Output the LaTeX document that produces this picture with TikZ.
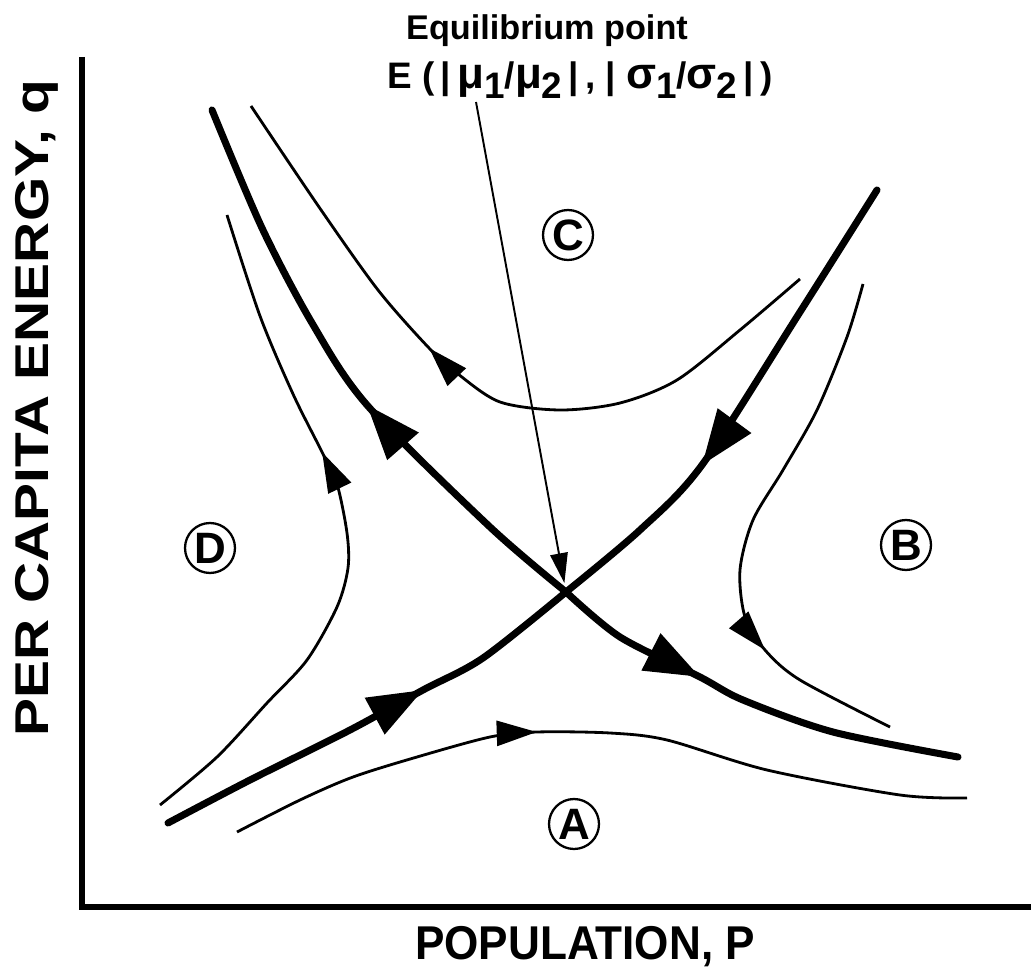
\documentclass[tikz,border=0pt]{standalone}
\usepackage{fontspec}
\setmainfont{Liberation Sans}
\usetikzlibrary{arrows.meta,decorations.markings}
\newcommand{\lowr}[1]{\raisebox{-0.5ex}{#1}}
\newcommand{\gk}[1]{{\fontsize{25}{25}\selectfont #1}}

\begin{document}
\begin{tikzpicture}[
  x=0.02cm, y=-0.02cm,
  axis/.style={line width=3.4pt},
  sep/.style={line width=4pt, line cap=round},
  orbit/.style={line width=1.6pt},
  bigtip/.tip={Triangle[length=1.1cm, width=0.8cm]},
  smalltip/.tip={Triangle[length=0.8cm, width=0.5cm]},
  bigarrow/.style={postaction=decorate,
    decoration={markings, mark=at position #1 with {\arrow{bigtip}}}},
  smallarrow/.style={postaction=decorate,
    decoration={markings, mark=at position #1 with {\arrow{smalltip}}}},
  region/.style={draw, circle, line width=1.3pt, minimum size=1cm, inner sep=0pt,
                 font=\fontsize{25}{25}\selectfont\bfseries},
  lbl/.style={font=\fontsize{27}{27}\selectfont\bfseries}
]
  \useasboundingbox (0,0) rectangle (1031,976);

  \coordinate (E) at (566,592);

  % axes
  \draw[axis] (82,57) -- (82,907) -- (1031,907);
  \node[lbl, rotate=90] (qlabel) at (37,408) {\scalebox{1.2}[1]{PER CAPITA ENERGY, q}};
  \node[lbl] (plabel) at (585,947) {\scalebox{0.93}[1]{POPULATION, P}};

  % equilibrium label and pointer
  \node[font=\fontsize{19.5}{19.5}\selectfont\bfseries] (eqtitle) at (547,31) {Equilibrium point};
  \node[font=\fontsize{21}{21}\selectfont\bfseries] (eqlbl) at (580,80)
    {E (\,|\,\gk{μ}\lowr{1}/\gk{μ}\lowr{2}\,|\,, | \gk{σ}\lowr{1}/\gk{σ}\lowr{2}\,|\,)};
  \coordinate (ptr) at (476,102);
  \draw[line width=1.1pt, -{Triangle[length=0.6cm, width=0.35cm]}, shorten >=0.18cm] (ptr) -- (E);

  % separatrices
  \draw[sep, bigarrow=0.636] plot[smooth] coordinates
    {(877,190) (800,312) (702,465) (640,530) (E)};
  \draw[sep, bigarrow=0.623] plot[smooth] coordinates
    {(168,823) (250,780) (350,730) (423,690) (483,658) (E)};
  \draw[sep, bigarrow=0.45] plot[smooth] coordinates
    {(E) (490,527) (367,405) (312,323) (262,228) (212,110)};
  \draw[sep, bigarrow=0.37] plot[smooth] coordinates
    {(E) (620,637) (700,677) (743,700) (833,732) (958,757)};

  % trajectories
  \draw[orbit, smallarrow=0.589] plot[smooth] coordinates
    {(800,279) (740,330) (677,380) (620,403) (560,410) (500,402) (458,374) (429,348)
     (378,290) (319,207) (251,106)};
  \draw[orbit, smallarrow=0.626] plot[smooth] coordinates
    {(160,805) (217,757) (267,703) (307,660) (337,607) (348,568) (347,533) (337,484)
     (322,452) (293,394) (260,316) (227,215)};
  \draw[orbit, smallarrow=0.73] plot[smooth] coordinates
    {(863,284) (847,337) (817,410) (783,470) (753,520) (740,570) (745,617) (765,650)
     (800,680) (890,727)};
  \draw[orbit, smallarrow=0.421] plot[smooth] coordinates
    {(237,832) (300,800) (353,777) (417,757) (490,737) (537,732) (610,733) (667,740)
     (767,770) (900,795) (967,798)};

  % regions
  \node[region] (regA) at (574,824) {A};
  \node[region] (regB) at (906,545) {B};
  \node[region] (regC) at (568,235) {C};
  \node[region] (regD) at (210,548) {D};
\end{tikzpicture}
\end{document}
